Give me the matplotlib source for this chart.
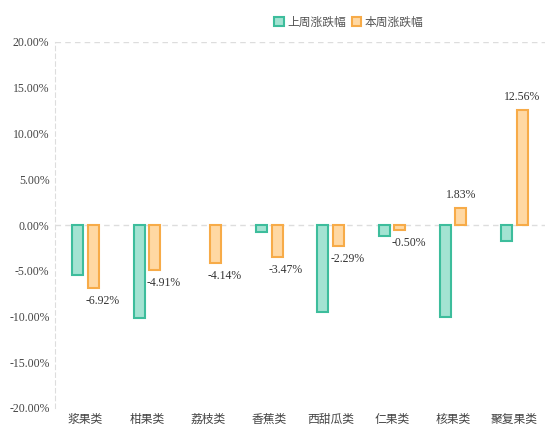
import numpy as np
import matplotlib
matplotlib.use('agg')
import matplotlib.pyplot as plt
from matplotlib.ticker import FuncFormatter

plt.rcParams['font.family'] = ['Noto Sans CJK SC', 'DejaVu Sans']

categories = ['浆果类', '柑果类', '荔枝类', '香蕉类', '西甜瓜类', '仁果类', '核果类', '聚复果类']
last_week = [-5.5, -10.2, 0.0, -0.8, -9.5, -1.2, -10.1, -1.7]
this_week = [-6.92, -4.91, -4.14, -3.47, -2.29, -0.50, 1.83, 12.56]

fig = plt.figure(figsize=(5.54, 4.47), dpi=100)
ax = fig.add_axes([55/554, 1-408/447, 490/554, 366/447])

x = np.arange(len(categories))
w = 0.18
bars = ax.bar(x - 0.125, last_week, w, color='#a3e3d2', edgecolor='#3dbd9c', linewidth=1.5,
              label='上周涨跌幅', zorder=3)
for b, v in zip(bars, last_week):
    if v == 0:
        b.set_visible(False)
ax.bar(x + 0.125, this_week, w, color='#ffd8a3', edgecolor='#f7ab48', linewidth=1.5,
       label='本周涨跌幅', zorder=3)

for xi, v in zip(x, this_week):
    if v < 0:
        ax.annotate('%.2f%%' % v, (xi + 0.27, v), xytext=(0, -5), textcoords='offset points',
                    ha='center', va='top', fontsize=8.5, family='Liberation Serif', color='#333333')
    else:
        ax.annotate('%.2f%%' % v, (xi + 0.125, v), xytext=(0, 5), textcoords='offset points',
                    ha='center', va='bottom', fontsize=8.5, family='Liberation Serif', color='#333333')

ax.set_xlim(-0.5, len(categories) - 0.5)
ax.set_ylim(-20, 20)
ax.set_yticks(np.arange(-20, 21, 5))
ax.yaxis.set_major_formatter(FuncFormatter(lambda v, p: '%.2f%%' % v))
ax.set_xticks(x)
ax.set_xticklabels(categories)
for lab in ax.get_yticklabels():
    lab.set_family('Liberation Serif')
ax.tick_params(length=0, labelsize=8.5, colors='#444444')
ax.tick_params(axis='y', pad=4)

for s in ['top', 'right', 'bottom']:
    ax.spines[s].set_visible(False)
ax.spines['left'].set_linestyle((0, (4, 3)))
ax.spines['left'].set_color('#dddddd')
ax.axhline(20, color='#dddddd', lw=1, ls=(0, (4, 3)), zorder=1)
ax.axhline(0, color='#dddddd', lw=1, ls=(0, (4, 3)), zorder=1)

ax.legend(loc='upper center', bbox_to_anchor=(0.6, 1.1), ncol=2, frameon=False,
          fontsize=8.5, handlelength=0.8, handleheight=0.8, columnspacing=0.5,
          handletextpad=0.3, labelcolor='#555555')

fig.savefig('out.png', dpi=100)
